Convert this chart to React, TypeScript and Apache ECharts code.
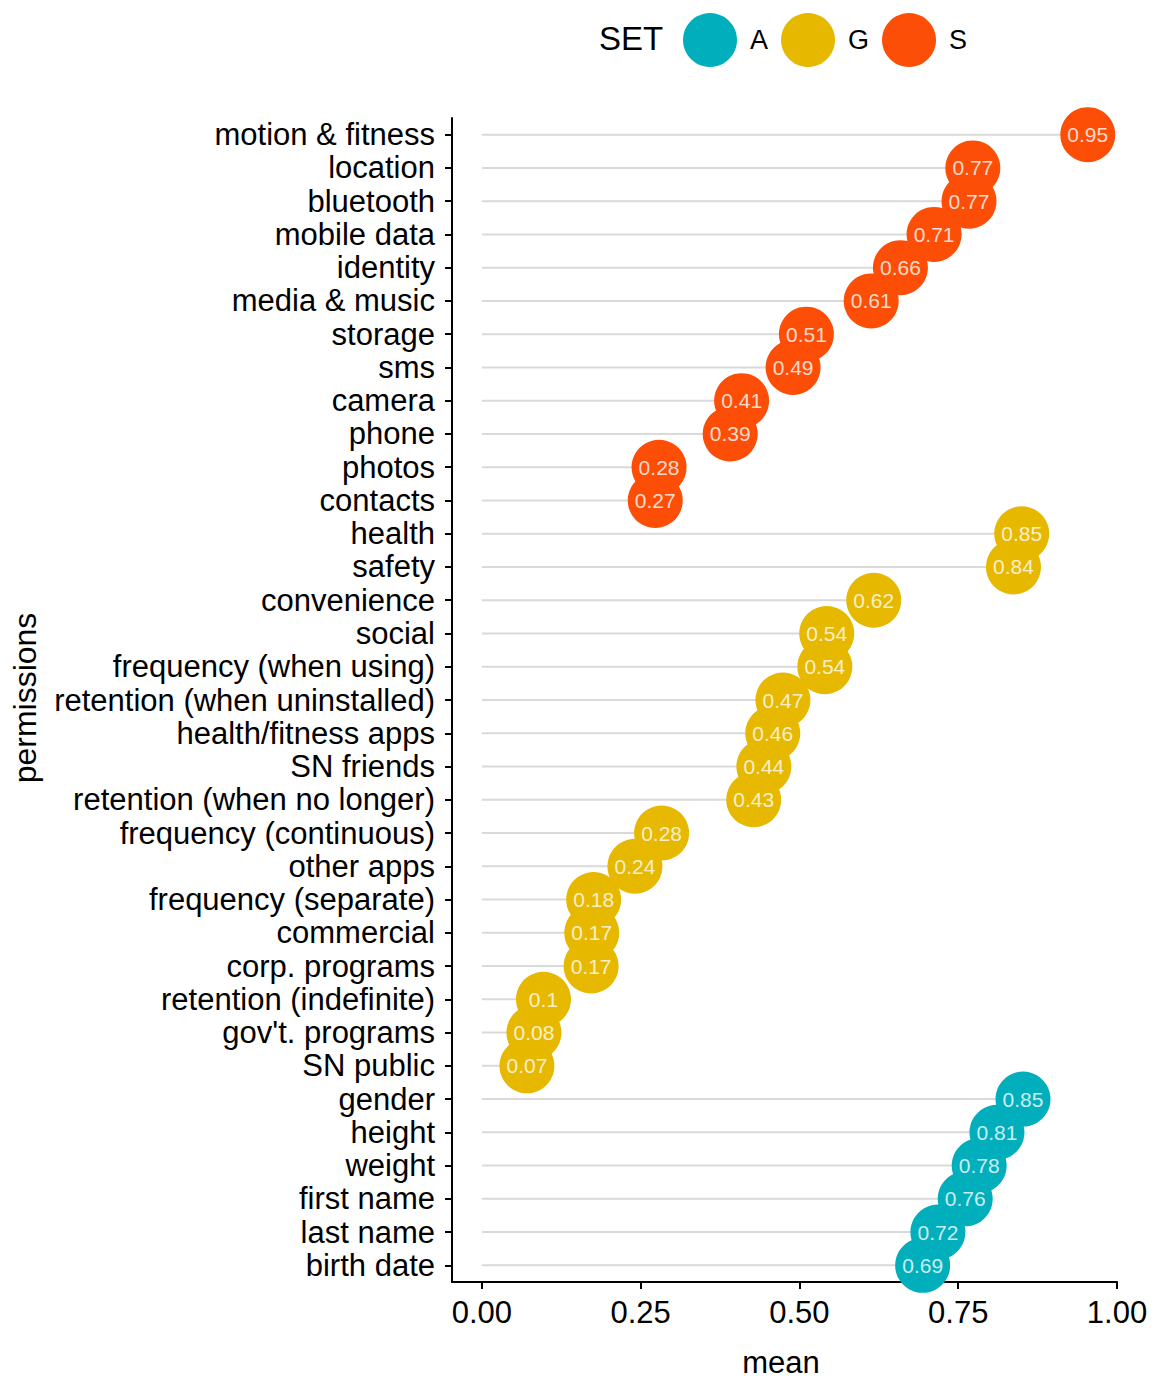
import React, { useEffect, useRef } from "react";
import * as echarts from "echarts";

const permissions = [
  "motion & fitness", "location", "bluetooth", "mobile data", "identity", "media & music",
  "storage", "sms", "camera", "phone", "photos", "contacts",
  "health", "safety", "convenience", "social", "frequency (when using)", "retention (when uninstalled)",
  "health/fitness apps", "SN friends", "retention (when no longer)", "frequency (continuous)", "other apps",
  "frequency (separate)", "commercial", "corp. programs", "retention (indefinite)", "gov't. programs", "SN public",
  "gender", "height", "weight", "first name", "last name", "birth date",
];

const means = [
  0.954, 0.773, 0.767, 0.712, 0.659, 0.613,
  0.511, 0.490, 0.409, 0.391, 0.279, 0.273,
  0.850, 0.837, 0.617, 0.543, 0.540, 0.474,
  0.458, 0.444, 0.428, 0.283, 0.241,
  0.176, 0.173, 0.172, 0.097, 0.082, 0.071,
  0.852, 0.811, 0.783, 0.761, 0.718, 0.694,
];

const setOf = [
  "S", "S", "S", "S", "S", "S", "S", "S", "S", "S", "S", "S",
  "G", "G", "G", "G", "G", "G", "G", "G", "G", "G", "G", "G", "G", "G", "G", "G", "G",
  "A", "A", "A", "A", "A", "A",
];

const setNames = ["A", "G", "S"];
const setColors = ["#00AFBB", "#E7B800", "#FC4E07"];
const xTicks = [0, 0.25, 0.5, 0.75, 1];

const FONT = "'Liberation Sans', Arial, sans-serif";

export default function App() {
  const ref = useRef<HTMLDivElement>(null);
  useEffect(() => {
    if (!ref.current) return;
    document.body.style.margin = "0";
    const chart = echarts.init(ref.current, null, { renderer: "svg" });
    const pointSeries = setNames.map((s, k) => ({
      name: s,
      type: "scatter",
      z: 3,
      symbol: "circle",
      symbolSize: 55,
      itemStyle: { color: setColors[k], opacity: 1 },
      data: permissions
        .map((p, i) => (setOf[i] === s ? [means[i], p] : null))
        .filter((d) => d !== null),
    }));
    chart.setOption({
      animation: false,
      textStyle: { fontFamily: FONT },
      grid: { left: 452, right: 37, top: 118, bottom: 97 },
      legend: {
        data: setNames,
        left: 678,
        top: 8,
        icon: "circle",
        itemWidth: 54,
        itemHeight: 54,
        itemGap: 13,
        textStyle: { fontSize: 27, color: "#000", fontFamily: FONT, padding: [0, 0, 0, 8] },
      },
      graphic: [
        {
          type: "text",
          x: 599,
          y: 38,
          style: { text: "SET", fontSize: 33, fill: "#000", fontFamily: FONT, verticalAlign: "middle", align: "left" },
        },
        {
          type: "text",
          x: 781,
          y: 1362,
          style: { text: "mean", fontSize: 31, fill: "#000", fontFamily: FONT, verticalAlign: "middle", align: "center" },
        },
        {
          type: "text",
          x: 25,
          y: 698,
          rotation: Math.PI / 2,
          style: { text: "permissions", fontSize: 32, fill: "#000", fontFamily: FONT, verticalAlign: "middle", align: "center" },
        },
      ],
      xAxis: {
        type: "value",
        min: -0.047,
        max: 1.0,
        splitLine: { show: false },
        axisLine: { show: true, onZero: false, lineStyle: { color: "#000", width: 2 } },
        axisTick: { show: true, customValues: xTicks, length: 7, lineStyle: { color: "#000", width: 2 } },
        axisLabel: {
          customValues: xTicks,
          formatter: (v: number) => v.toFixed(2),
          fontSize: 31,
          color: "#000",
          margin: 15,
          fontFamily: FONT,
        },
      },
      yAxis: {
        type: "category",
        inverse: true,
        data: permissions,
        axisLine: { show: true, onZero: false, lineStyle: { color: "#000", width: 2 } },
        axisTick: { show: true, alignWithLabel: true, length: 7, lineStyle: { color: "#000", width: 2 } },
        axisLabel: { fontSize: 31, color: "#000", margin: 17, fontFamily: FONT, interval: 0 },
        splitLine: { show: false },
      },
      series: [
        {
          name: "segments",
          type: "bar",
          z: 1,
          barWidth: 2,
          itemStyle: { color: "#D9D9D9" },
          data: means,
          silent: true,
        },
        ...pointSeries,
        {
          name: "labels",
          type: "scatter",
          z: 5,
          symbol: "circle",
          symbolSize: 2,
          silent: true,
          itemStyle: { color: "transparent" },
          label: {
            show: true,
            position: "inside",
            formatter: (p: any) => String(Math.round(p.value[0] * 100) / 100),
            color: "#FFFFFF",
            fontSize: 21,
            fontFamily: FONT,
          },
          data: permissions.map((p, i) => [means[i], p]),
        },
      ],
    });
    return () => chart.dispose();
  }, []);
  return <div ref={ref} style={{ width: 1154, height: 1379 }} />;
}
